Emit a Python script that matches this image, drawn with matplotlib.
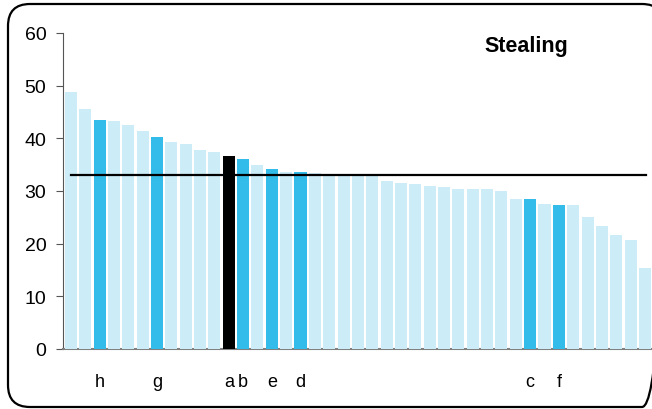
import matplotlib.pyplot as plt
from matplotlib.patches import FancyBboxPatch

plt.rcParams['font.family'] = ['Liberation Sans', 'DejaVu Sans']

# values, sorted high to low
values = [48.8, 45.5, 43.5, 43.3, 42.5, 41.4, 40.2, 39.3, 38.9, 37.8,
          37.4, 36.6, 36.0, 34.9, 34.2, 33.6, 33.6, 33.4, 33.1, 33.0,
          33.0, 33.0, 31.9, 31.5, 31.3, 30.9, 30.7, 30.4, 30.4, 30.4,
          30.0, 28.5, 28.5, 27.5, 27.3, 27.3, 25.0, 23.3, 21.6, 20.7,
          15.4]
labels = [""] * len(values)
labels[2] = "h"
labels[6] = "g"
labels[11] = "a"
labels[12] = "b"
labels[14] = "e"
labels[16] = "d"
labels[32] = "c"
labels[34] = "f"
highlight = "a"
average = 33.0

light = "#CCECF8"
dark = "#33BBEA"

colors = []
for lab in labels:
    if lab == highlight:
        colors.append("black")
    elif lab:
        colors.append(dark)
    else:
        colors.append(light)

fig = plt.figure(figsize=(6.52, 4.10), dpi=100)

# background axes in pixel units, only for the rounded frame
bg = fig.add_axes([0, 0, 1, 1])
bg.set_xlim(0, 652)
bg.set_ylim(410, 0)
bg.axis("off")
frame = FancyBboxPatch((8, 5), 656, 403,
                       boxstyle="round,pad=0,rounding_size=22",
                       fill=False, edgecolor="black", linewidth=1.6,
                       clip_on=False, zorder=0)
bg.add_patch(frame)

ax = fig.add_axes([63 / 652, 60 / 410, 589 / 652, 316 / 410])
ax.patch.set_alpha(0)
x = list(range(len(values)))
ax.bar(x, values, width=0.84, color=colors, zorder=3)
ax.plot([0, 40.05], [average, average], color="black", linewidth=1.6, zorder=4)

ax.set_xlim(-0.55, 40.49)
ax.set_ylim(0, 60)
ax.set_yticks(range(0, 61, 10))
ax.tick_params(axis="y", labelsize=14, length=5, color="#555555", pad=7)
ax.set_xticks(x)
ax.set_xticklabels(labels, fontsize=13)
ax.tick_params(axis="x", length=0, pad=17)

for side in ["top", "right"]:
    ax.spines[side].set_visible(False)
ax.spines["left"].set_color("#555555")
ax.spines["bottom"].set_color("#808080")
ax.spines["bottom"].set_linewidth(1.5)

ax.text(0.786, 0.995, "Stealing", transform=ax.transAxes, fontsize=15.5,
        fontweight="bold", ha="center", va="top")

fig.savefig("out.png", dpi=100)
